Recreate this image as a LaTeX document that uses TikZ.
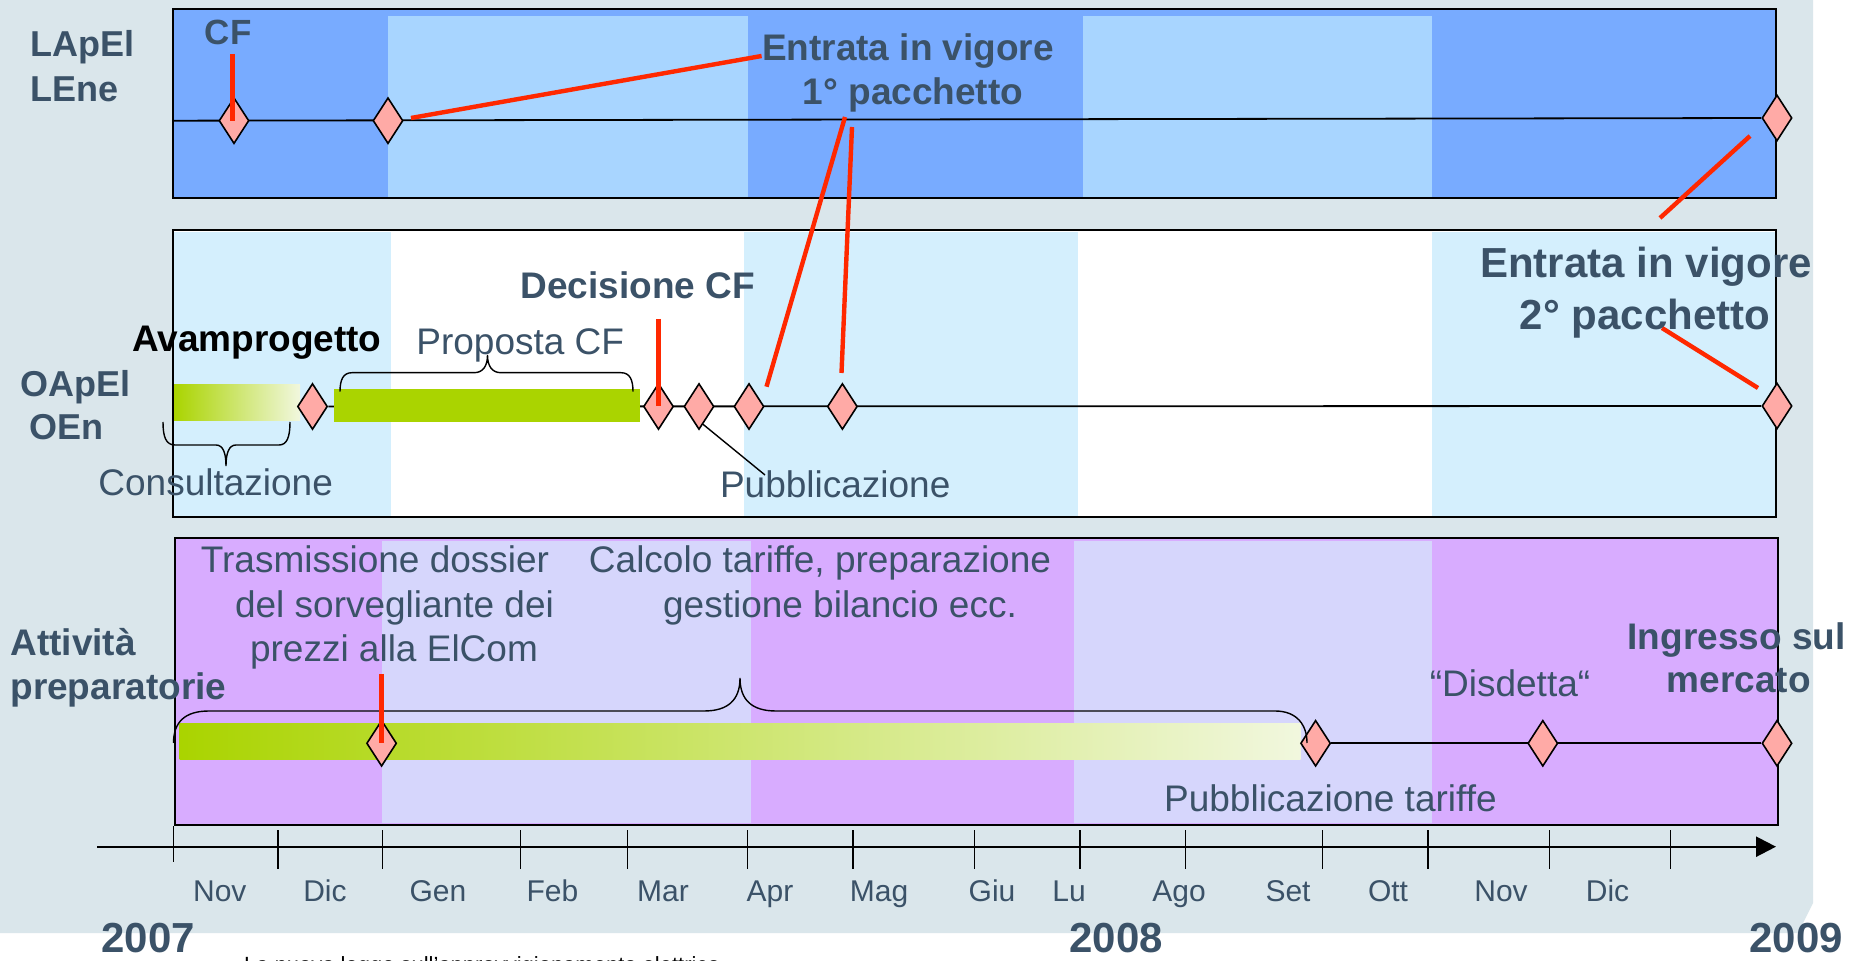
\documentclass[tikz,border=0pt]{standalone}
\usepackage{fontspec}
\setmainfont{Liberation Sans}
\usetikzlibrary{shapes.geometric,arrows.meta,calc}
\pgfdeclarelayer{back}
\pgfdeclarelayer{mid}
\pgfsetlayers{back,mid,main}
\definecolor{bgc}{RGB}{218,230,235}
\definecolor{txt}{RGB}{59,82,104}
\definecolor{dblue}{RGB}{120,171,255}
\definecolor{lblue}{RGB}{168,213,255}
\definecolor{cyanl}{RGB}{212,239,253}
\definecolor{purp}{RGB}{216,172,255}
\definecolor{lav}{RGB}{214,214,252}
\definecolor{pinkd}{RGB}{255,170,166}
\definecolor{redl}{RGB}{255,40,0}
\definecolor{grn}{RGB}{170,212,0}
\definecolor{grnl}{RGB}{241,247,222}
\begin{document}
\begin{tikzpicture}[x=0.5pt,y=-0.5pt,
  ms/.style={diamond,draw=black,line width=0.8pt,fill=pinkd,minimum width=15pt,minimum height=23pt,inner sep=0pt},
  callout/.style={draw=redl,line width=2.2pt},
  boxline/.style={draw=black,line width=1pt},
  tline/.style={draw=black,line width=0.9pt},
  bracel/.style={draw=black,line width=0.7pt},
  tickl/.style={draw=black,line width=0.7pt},
  lab/.style={text=txt,font=\fontsize{18.5}{22}\selectfont,inner sep=0pt,anchor=base},
  labw/.style={lab,anchor=base west},
  blab/.style={lab,font=\fontsize{18.5}{22}\selectfont\bfseries},
  blabw/.style={blab,anchor=base west},
  mlab/.style={lab,font=\fontsize{15}{18}\selectfont},
  ylab/.style={lab,anchor=base west,font=\fontsize{21}{25}\selectfont\bfseries},
]
\useasboundingbox (0,0) rectangle (1863,961);
\begin{pgfonlayer}{back}
\fill[white] (0,0) rectangle (1863,961);
\fill[bgc] (0,0) -- (1813,0) -- (1813,903) -- (1798,933) -- (0,933) -- cycle;
% top band
\fill[dblue] (173,9) rectangle (1776,198);
\fill[lblue] (388,16) rectangle (748,198);
\fill[lblue] (1083,16) rectangle (1432,198);
\draw[boxline] (173,9) rectangle (1776,198);
% middle band
\fill[white] (173,230) rectangle (1776,517);
\fill[cyanl] (173,232) rectangle (391,517);
\fill[cyanl] (744,232) rectangle (1078,517);
\fill[cyanl] (1432,232) rectangle (1776,517);
\draw[boxline] (173,230) rectangle (1776,517);
% bottom band
\fill[purp] (175,538) rectangle (1778,825);
\fill[lav] (382,541) rectangle (751,823);
\fill[lav] (1074,541) rectangle (1432,823);
\draw[boxline] (175,538) rectangle (1778,825);
\end{pgfonlayer}

% bars
\shade[left color=grn,right color=grnl] (174,385) rectangle (300,421);
\fill[grn] (334,389) rectangle (640,421.7);
\shade[left color=grn,right color=grnl] (179.6,724) rectangle (1300.7,760);

% milestones
\node[ms] (a1) at (234,120.7) {};
\node[ms] (a2) at (388,120.7) {};
\node[ms] (a3) at (1777,118) {};
\coordinate (a0) at (173,120.7);
\node[ms] (b1) at (312.5,406.5) {};
\node[ms] (b2) at (658.5,406.5) {};
\node[ms] (b3) at (699,406.5) {};
\node[ms] (b4) at (749,406.5) {};
\node[ms] (b5) at (842.4,406.5) {};
\node[ms] (b6) at (1777,406) {};
\node[ms] (c1) at (381.6,743.3) {};
\node[ms] (c2) at (1315.6,743.3) {};
\node[ms] (c3) at (1542.8,743.3) {};
\node[ms] (c4) at (1777,743.3) {};

\begin{pgfonlayer}{mid}
\draw[tline] (a0) -- (a3);
\draw[tline] (b1) -- (b6);
\draw[tline] (c2) -- (c4);
\end{pgfonlayer}

% braces
\draw[bracel] (340,391.7) .. controls (340,380) and (343,372.7) .. (352,372.7) -- (474,372.7) .. controls (483,372.7) and (487.5,366) .. (487.5,355) .. controls (487.5,366) and (492,372.7) .. (501,372.7) -- (621,372.7) .. controls (630,372.7) and (633,380) .. (633,391.7);
\draw[bracel] (163,422) .. controls (163,437) and (166,445) .. (175,445) -- (216,445) .. controls (223,445) and (226,453) .. (226,466) .. controls (226,453) and (229,445) .. (236,445) -- (279,445) .. controls (287,445) and (290,437) .. (290,422);
\draw[bracel] (173.5,743) .. controls (173.5,722) and (185,711) .. (209,711) -- (704,711) .. controls (728,711) and (740,700) .. (740,678) .. controls (740,700) and (752,711) .. (776,711) -- (1275,711) .. controls (1297,711) and (1307,725) .. (1307,743);

% callouts
\coordinate (r1) at (232.6,54);
\coordinate (r2) at (411,118);
\coordinate (r2t) at (761.6,56);
\coordinate (r3) at (766.5,386.7);
\coordinate (r3t) at (845,117);
\coordinate (r4) at (841.5,373);
\coordinate (r4t) at (852,127);
\coordinate (r5) at (1750,136);
\coordinate (r5t) at (1660,218);
\coordinate (r6) at (1758,388);
\coordinate (r6t) at (1662,328);
\coordinate (r7) at (658.5,319);
\coordinate (r8) at (381.6,674);
\coordinate (pl) at (765,475);
\draw[callout] (r1) -- (r1 |- a1.center);
\draw[callout] (r2) -- (r2t);
\draw[callout] (r3) -- (r3t);
\draw[callout] (r4) -- (r4t);
\draw[callout] (r5) -- (r5t);
\draw[callout] (r6t) -- (r6);
\draw[callout] (r7) -- (b2.center);
\draw[callout] (r8) -- (c1.center);
\draw[black,line width=0.7pt] (b3.south) ++(4,-6) -- (pl);

% axis
\coordinate (ax0) at (97,846.7);
\coordinate (ax1) at (1776,846.7);
\draw[line width=1.2pt,-{Triangle[length=10pt,width=10pt]}] (ax0) -- (ax1);
\draw[tickl] (173.5,826) -- (173.5,862);
\foreach \x in {278,382.6,520.4,627.3,747.3,853,974.2,1080,1185.7,1322.3,1428,1549.2,1670.4}
  \draw[tickl] (\x,830) -- (\x,869);
\foreach \x/\m [count=\i] in {219.8/Nov,325/Dic,438/Gen,552.5/Feb,663/Mar,770/Apr,879/Mag,992/Giu,1069/Lu,1179/Ago,1288/Set,1388/Ott,1501/Nov,1607.5/Dic}
  \node[mlab] (m\i) at (\x,901.7) {\m};
\node[ylab] (y1) at (101,952.5) {2007};
\node[ylab] (y2) at (1069,952.5) {2008};
\node[ylab] (y3) at (1749,952.5) {2009};
\node[anchor=base west,inner sep=0pt,font=\fontsize{11}{13}\selectfont] (foot) at (243.7,972) {La nuova legge sull'approvvigionamento elettrico};

% row labels
\node[blabw,font=\fontsize{18}{22}\selectfont\bfseries] (l1) at (30,57) {LApEl};
\node[blabw,font=\fontsize{18}{22}\selectfont\bfseries] (l2) at (30,102) {LEne};
\node[blabw,font=\fontsize{18}{22}\selectfont\bfseries] (l3) at (20,396.7) {OApEl};
\node[blabw,font=\fontsize{18}{22}\selectfont\bfseries] (l4) at (29,440) {OEn};
\node[blabw] (l5) at (10,656) {Attività};
\node[blabw] (l6) at (10,700) {preparatorie};

% texts top
\node[blabw,font=\fontsize{17.5}{21}\selectfont\bfseries] (cf) at (204.5,44.3) {CF};
\node[blab] (e1a) at (908,61) {Entrata in vigore};
\node[blab] (e1b) at (913,105) {1° pacchetto};
% texts middle
\node[blabw,text=black] (avp) at (131.7,351.7) {Avamprogetto};
\node[labw] (prop) at (416,355) {Proposta CF};
\node[blabw] (dec) at (520,299) {Decisione CF};
\node[labw] (cons) at (98,496) {Consultazione};
\node[labw] (pub) at (719.6,498) {Pubblicazione};
\node[blab,font=\fontsize{21}{25}\selectfont\bfseries] (e2a) at (1646,278) {Entrata in vigore};
\node[blab,font=\fontsize{21}{25}\selectfont\bfseries] (e2b) at (1645,330) {2° pacchetto};
% texts bottom
\node[lab] (t1) at (375,572.7) {Trasmissione dossier};
\node[lab] (t2) at (394.5,618) {del sorvegliante dei};
\node[lab] (t3) at (394,661.7) {prezzi alla ElCom};
\node[lab] (k1) at (820,572.7) {Calcolo tariffe, preparazione};
\node[lab] (k2) at (840,618) {gestione bilancio ecc.};
\node[lab] (dis) at (1510,696.7) {“Disdetta“};
\node[blab] (ing1) at (1736.5,650) {Ingresso sul};
\node[blab] (ing2) at (1738.7,693) {mercato};
\node[lab] (pubt) at (1330.4,811.7) {Pubblicazione tariffe};
\end{tikzpicture}
\end{document}
